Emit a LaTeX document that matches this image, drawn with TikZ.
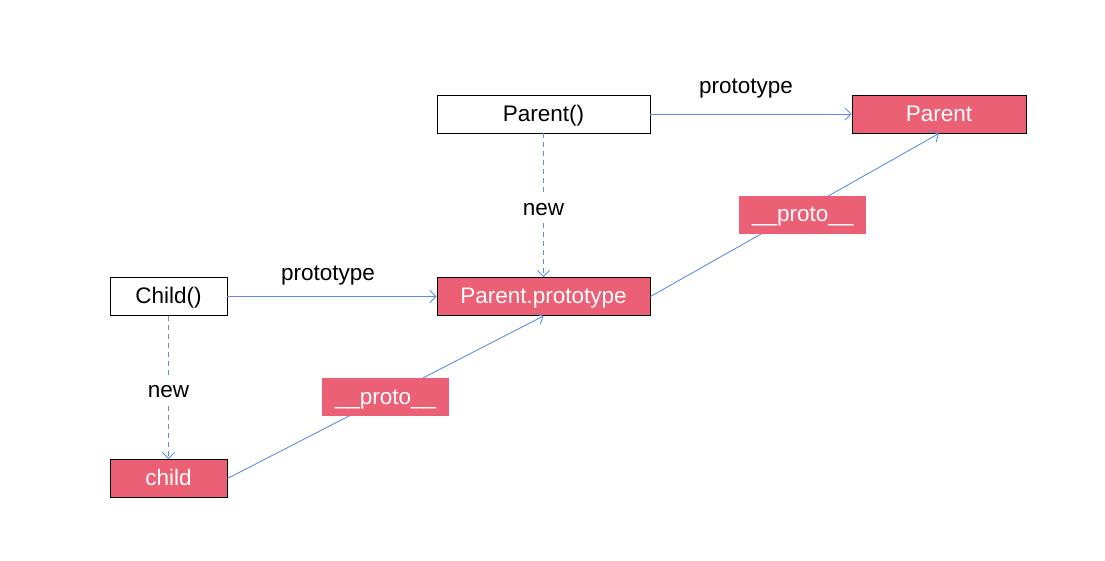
\documentclass[tikz,border=0pt]{standalone}
\usepackage{fontspec}
\setmainfont{Liberation Sans}
\usetikzlibrary{arrows.meta}

\definecolor{protored}{HTML}{EC6075}
\definecolor{linkblue}{HTML}{5B8FE3}

\tikzset{
  every node/.style={text height=18pt, text depth=4pt},
  fnbox/.style={draw=black, fill=white, line width=0.9pt, minimum height=38pt, inner sep=0pt},
  objbox/.style={fnbox, fill=protored, text=white},
  protolab/.style={fill=protored, text=white, minimum width=127pt, minimum height=38pt, inner sep=0pt},
  link/.style={draw=linkblue, line width=0.9pt, -{Straight Barb[length=6pt,width=12pt]}},
  newlink/.style={link, dash pattern=on 5pt off 4pt}
}

\begin{document}
\begin{tikzpicture}[x=1pt, y=-1pt, font=\fontsize{22.5}{26}\selectfont]
        \useasboundingbox (0, 0) rectangle (1105, 560);
        \node[fnbox, minimum width=213pt] (parentfn) at (543.5, 114) {Parent()};
        \node[objbox, minimum width=174pt] (parentobj) at (939, 114) {Parent};
        \node[fnbox, minimum width=117pt] (childfn) at (168.5, 296.5) {Child()};
        \node[objbox, minimum width=213pt] (parentproto) at (543.5, 296.5) {Parent.prototype};
        \node[objbox, minimum width=117pt] (childobj) at (168.5, 478.5) {child};
        % prototype links
        \draw[link] (parentfn) -- (parentobj);
        \draw[link] (childfn) -- (parentproto);
        \node (protoa) at (746, 86) {prototype};
        \node (protob) at (328, 273) {prototype};
        % new
        \draw[newlink] (parentfn) -- (parentproto);
        \draw[newlink] (childfn) -- (childobj);
        \node[fill=white, inner sep=1pt] (newa) at (543.5, 208) {new};
        \node[fill=white, inner sep=1pt] (newb) at (168.5, 390) {new};
        % __proto__ chain
        \draw[link] (childobj.east) -- node[protolab] (chaina) {\_\_proto\_\_} (parentproto.south);
        \draw[link] (parentproto.east) -- node[protolab, xshift=8pt] (chainb) {\_\_proto\_\_} (parentobj.south);
    \end{tikzpicture}
\end{document}
